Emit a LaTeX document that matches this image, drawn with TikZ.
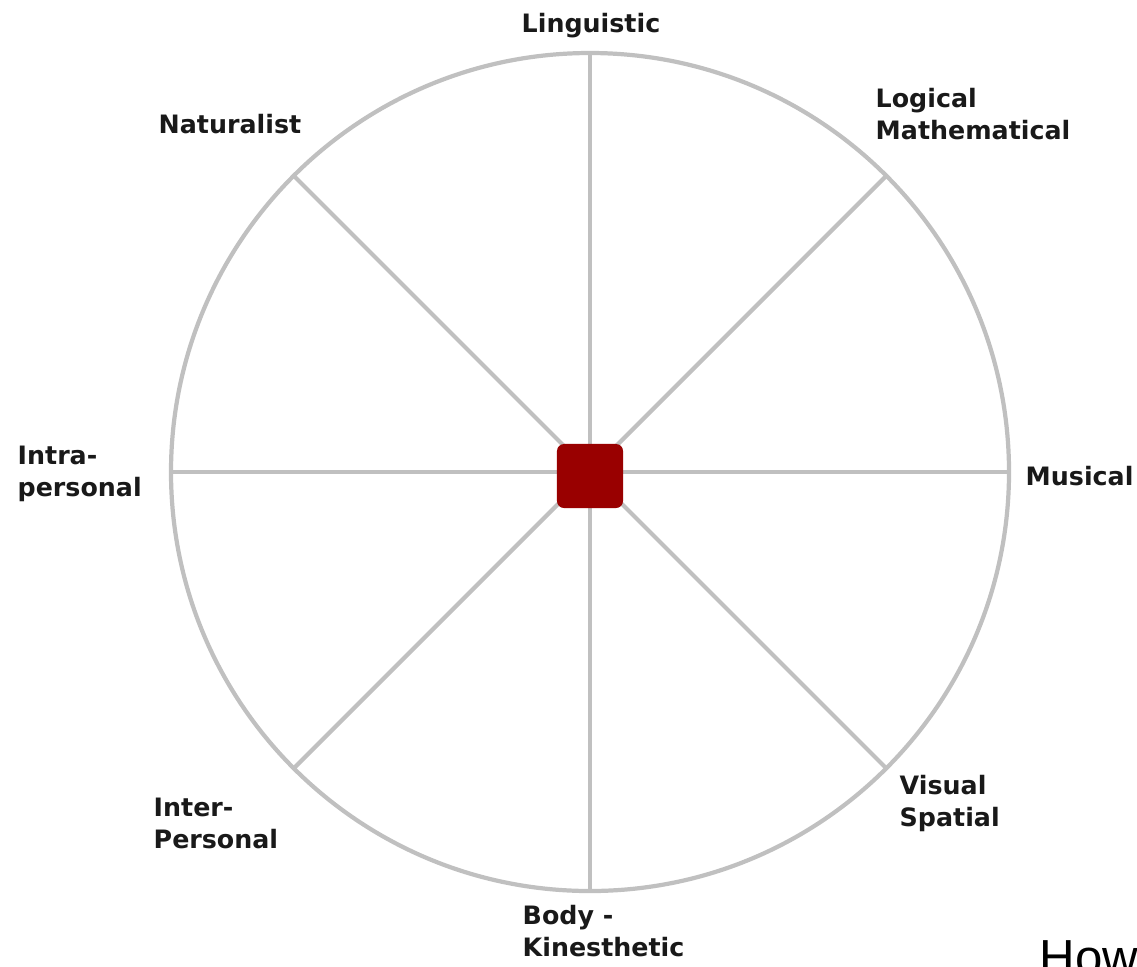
\documentclass[tikz,border=0pt]{standalone}
\usepackage{fontspec}
\newfontfamily\wheelfont{DejaVu Sans}
\newfontfamily\capfont{Liberation Sans}
\usetikzlibrary{calc, positioning}

\definecolor{spokegray}{RGB}{192,192,192}
\definecolor{hubred}{RGB}{153,0,0}

\begin{document}
\begin{tikzpicture}[
        x=0.01cm, y=-0.01cm,
        spoke/.style={draw=spokegray, line width=1.2pt},
        hubbox/.style={rectangle, fill=hubred, draw=none, rounded corners=2pt,
                       minimum width=0.66cm, minimum height=0.64cm, inner sep=0pt},
        intel/.style={font=\wheelfont\bfseries\fontsize{7.2}{9}\selectfont,
                      align=left, inner sep=0pt, text=black!90},
    ]
    \clip (0,0) rectangle (1137,966);

    % rim and spokes
    \coordinate (c) at (590,472);
    \draw[spoke] (c) circle[radius=419];
    \foreach \a in {0,45,...,315}
        \coordinate (e\a) at ($(c)+(\a:419)$);
    \foreach \a in {0,45,...,315}
        \draw[spoke] (c) -- (e\a);

    % hub
    \node[hubbox] (hub) at (590,476) {};

    % intelligences (base = last line)
    \node[intel, anchor=base] (ling) at (591,32) {Linguistic};
    \node[intel, anchor=base west] (logi) at (875,139) {Logical\\Mathematical};
    \node[intel, anchor=base west] (musi) at (1025,485) {Musical};
    \node[intel, anchor=base west] (visu) at (899,826) {Visual\\Spatial};
    \node[intel, anchor=base west] (body) at (522,956) {Body -\\Kinesthetic};
    \node[intel, anchor=base west] (inte) at (153,848) {Inter-\\Personal};
    \node[intel, anchor=base west] (intr) at (17,496) {Intra-\\personal};
    \node[intel, anchor=base west] (natu) at (158,133) {Naturalist};

    % cut-off caption
    \node[font=\capfont\fontsize{14}{16}\selectfont, anchor=base west, inner sep=0pt]
        (how) at (1039,974) {How};
\end{tikzpicture}
\end{document}
